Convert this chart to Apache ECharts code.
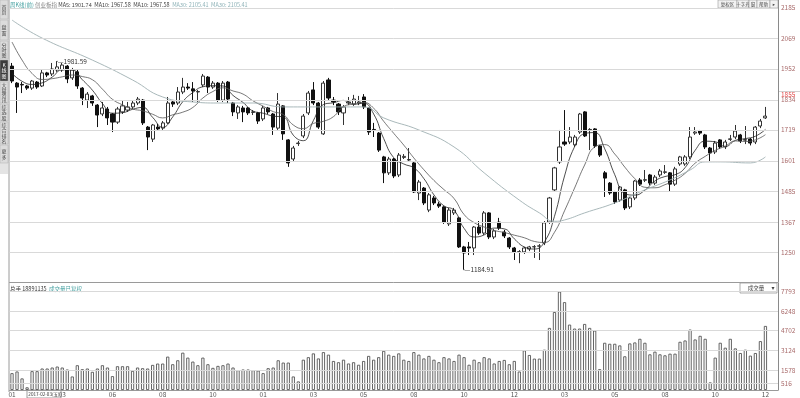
<!DOCTYPE html>
<html>
<head>
<meta charset="utf-8">
<script src="https://cdn.jsdelivr.net/npm/echarts@6.0.0/dist/echarts.min.js"></script>
<style>
html, body { margin: 0; padding: 0; background: #fff; }
#main { width: 800px; height: 398px; }
</style>
</head>
<body>
<div id="main"></div>
<script>
// weekly candles
var opens = [1963,1898,1893,1887,1879,1902,1887,1937,1933,1948,
  1948,1963,1918,1941,1879,1833,1849,1814,1780,1799,
  1780,1749,1788,1795,1807,1822,1833,1730,1684,1730,
  1726,1746,1826,1822,1864,1883,1876,1864,1891,1921,
  1883,1898,1833,1902,1822,1784,1803,1803,1786,1784,
  1761,1803,1780,1726,1811,1681,1608,1667,1696,1784,
  1872,1822,1704,1910,1833,1818,1784,1822,1818,1822,
  1845,1803,1721,1707,1616,1555,1608,1547,1614,1604,
  1593,1478,1497,1413,1459,1436,1425,1360,1402,1383,
  1272,1272,1268,1348,1325,1402,1310,1367,1329,1306,
  1268,1253,1253,1264,1272,1275,1287,1367,1490,1597,
  1673,1673,1662,1711,1788,1719,1723,1658,1555,1516,
  1482,1451,1490,1425,1459,1528,1527,1547,1516,1547,
  1557,1555,1512,1589,1589,1616,1707,1715,1700,1650,
  1635,1681,1654,1683,1692,1700,1680,1684,1673,1734,
  1765];
var closes = [1906,1883,1891,1879,1906,1883,1937,1929,1952,1960,
  1967,1914,1948,1887,1841,1856,1822,1776,1803,1765,
  1749,1799,1811,1807,1822,1837,1746,1692,1738,1723,
  1746,1822,1818,1864,1883,1879,1868,1866,1925,1883,
  1898,1833,1898,1837,1788,1807,1788,1784,1788,1753,
  1803,1788,1730,1818,1704,1593,1650,1669,1772,1860,
  1822,1730,1898,1841,1826,1788,1807,1826,1837,1826,
  1807,1711,1717,1642,1555,1608,1543,1623,1618,1606,
  1482,1520,1440,1471,1440,1428,1367,1413,1413,1272,
  1249,1268,1348,1325,1402,1310,1333,1344,1314,1272,
  1253,1254,1268,1272,1273,1276,1364,1459,1574,1654,
  1665,1692,1692,1780,1696,1721,1658,1623,1535,1478,
  1444,1501,1421,1459,1524,1512,1529,1516,1539,1562,
  1559,1512,1570,1616,1616,1692,1711,1707,1654,1631,
  1669,1654,1673,1685,1715,1677,1682,1669,1730,1753,
  1772];
var lows = [1898,1784,1860,1872,1872,1876,1883,1921,1925,1941,
  1941,1898,1910,1876,1814,1803,1811,1730,1772,1738,
  1711,1742,1780,1788,1799,1814,1738,1642,1673,1715,
  1719,1742,1807,1814,1856,1872,1826,1826,1883,1860,
  1876,1826,1826,1822,1772,1761,1749,1776,1776,1742,
  1753,1780,1700,1719,1681,1578,1600,1658,1688,1776,
  1814,1723,1700,1833,1814,1776,1738,1814,1811,1814,
  1799,1700,1692,1635,1516,1547,1535,1539,1608,1597,
  1478,1451,1432,1405,1432,1421,1360,1352,1394,1268,
  1185,1241,1241,1318,1318,1302,1302,1337,1306,1264,
  1222,1210,1245,1256,1230,1222,1279,1360,1482,1589,
  1658,1665,1654,1704,1692,1642,1650,1616,1463,1471,
  1436,1444,1413,1417,1451,1505,1520,1508,1509,1539,
  1551,1482,1505,1582,1582,1608,1700,1700,1646,1600,
  1627,1646,1646,1677,1684,1669,1665,1660,1665,1726,
  1761];
var highs = [1975,1902,1902,1891,1910,1906,1948,1941,1975,1982,
  1975,1967,1956,1948,1883,1864,1853,1818,1826,1807,
  1784,1807,1833,1826,1833,1845,1837,1734,1742,1742,
  1753,1845,1833,1883,1918,1898,1902,1872,1933,1925,
  1906,1902,1906,1906,1826,1814,1811,1807,1795,1788,
  1811,1807,1784,1860,1814,1684,1658,1677,1780,1868,
  1902,1826,1906,1918,1845,1822,1814,1845,1853,1849,
  1856,1807,1746,1711,1620,1616,1612,1631,1627,1650,
  1597,1528,1501,1478,1467,1444,1428,1421,1421,1387,
  1276,1291,1352,1371,1409,1405,1340,1383,1337,1310,
  1272,1260,1272,1276,1279,1283,1371,1463,1578,1719,
  1795,1730,1700,1784,1791,1726,1726,1662,1562,1520,
  1486,1505,1494,1463,1528,1535,1566,1551,1547,1570,
  1585,1558,1578,1620,1623,1730,1730,1719,1704,1654,
  1677,1684,1681,1700,1738,1704,1734,1688,1734,1761,
  1807];
var volumes = [1335,1468,918,212,1492,1492,1701,1701,1780,1858,
  1780,1623,1073,1963,1649,1701,1440,1701,1963,1780,
  1099,1884,1884,1884,1518,1780,1727,1701,1989,2094,
  2094,2643,2041,2355,2957,2564,2250,1963,2564,2041,
  1753,1910,1963,2094,1780,1570,1623,1623,1570,1544,
  1335,1727,1780,2355,2172,2172,1073,680,2400,2600,
  2900,2500,3000,2800,2300,2200,2400,2100,2200,2000,
  2300,2700,2400,2600,3100,2800,2700,2900,2400,2300,
  3000,2800,2500,2700,2400,2200,2600,2500,2300,2800,
  2600,2000,2400,2200,2600,2500,2100,2300,2381,2041,
  2303,1466,3140,2773,2486,2486,3192,4919,6174,7800,
  6960,5181,4867,4867,5233,4919,4710,1649,3742,3663,
  3663,3533,2669,3690,3768,4055,3742,2826,3036,2826,
  2748,2878,2878,3820,3925,4789,4004,4291,4055,602,
  2564,3742,3350,4055,3297,2930,3192,2721,2930,3873,
  5076];

// moving averages, [week index, value]
var ma5Pts = [[0,1935],[2,1905],[4,1893],[6,1899],[8,1921],[10,1949],[12,1948],[14,1911],[16,1871],[18,1820],
  [20,1783],[22,1785],[24,1798],[26,1805],[28,1767],[30,1729],[32,1769],[34,1827],[36,1862],[38,1884],
  [40,1888],[42,1887],[44,1851],[46,1824],[48,1791],[50,1783],[52,1772],[54,1769],[56,1699],[58,1678],
  [60,1755],[62,1816],[64,1823],[66,1832],[68,1817],[70,1821],[72,1780],[74,1686],[76,1613],[78,1589],
  [80,1574],[82,1533],[84,1471],[86,1429],[88,1412],[90,1343],[92,1310],[94,1318],[96,1344],[98,1341],
  [100,1303],[102,1272],[104,1264],[106,1291],[108,1389],[110,1543],[112,1655],[114,1705],[116,1709],[118,1647],
  [120,1548],[122,1476],[124,1470],[126,1489],[128,1524],[130,1541],[132,1548],[134,1575],[136,1641],[138,1676],
  [140,1674],[142,1656],[144,1679],[146,1686],[148,1695],[150,1721]];
var ma10Pts = [[0,2055],[2,1986],[4,1935],[6,1912],[8,1915],[10,1922],[12,1929],[14,1923],[16,1911],[18,1875],
  [20,1836],[22,1815],[24,1799],[26,1792],[28,1779],[30,1765],[32,1777],[34,1787],[36,1805],[38,1841],
  [40,1866],[42,1880],[44,1868],[46,1856],[48,1830],[50,1810],[52,1789],[54,1778],[56,1738],[58,1724],
  [60,1744],[62,1752],[64,1770],[66,1808],[68,1818],[70,1824],[72,1802],[74,1752],[76,1706],[78,1661],
  [80,1612],[82,1567],[84,1526],[86,1491],[88,1457],[90,1396],[92,1365],[94,1348],[96,1335],[98,1327],
  [100,1317],[102,1307],[104,1293],[106,1289],[108,1328],[110,1410],[112,1497],[114,1585],[116,1654],[118,1663],
  [120,1627],[122,1577],[124,1533],[126,1500],[128,1498],[130,1510],[132,1527],[134,1553],[136,1592],[138,1618],
  [140,1641],[142,1657],[144,1677],[146,1675],[148,1681],[150,1701]];
var ma30Pts = [[0,2139],[6,2070],[16,1986],[24,1910],[30,1845],[36,1826],[41,1822],[48,1822],[54,1807],[61,1807],
  [70,1807],[74,1765],[81,1719],[88,1654],[94,1555],[101,1451],[105,1402],[108,1370],[110,1375],[114,1402],
  [120,1440],[126,1490],[131,1528],[135,1566],[138,1597],[141,1597],[147,1593],[150,1616]];

var priceTicks = [1250, 1367, 1485, 1601, 1719, 1834, 1952, 2069, 2185];
var volTicks = [516, 1578, 3124, 4702, 6248, 7793];
var monthTicks = ['01','03','06','08','10','01','03','05','08','10','12','03','05','08','10','12'];
var lastMark = 1855;

var FONT = '"Noto Sans CJK SC", "DejaVu Sans", sans-serif';
var AXIS_TXT = '#a86a6a';

var chartDom = document.getElementById('main');
var myChart = echarts.init(chartDom, null, { renderer: 'canvas' });

var weeks = closes.map(function (_, i) { return i; });
var candles = opens.map(function (o, i) { return [o, closes[i], lows[i], highs[i]]; });

function tickLines(ticks) {
  return ticks.map(function (v) { return { yAxis: v }; });
}

// left tool strip and small header widgets
var toolButtons = [['首页', 0, 19], ['盘面', 20, 40], ['分时图', 41, 59], ['K线图', 60, 81],
  ['大盘资讯', 82, 103], ['综选股', 104, 121], ['综合排名', 122, 144], ['更多', 145, 163]];
var graphics = [];
graphics.push({ type: 'rect', shape: { x: 0, y: 0, width: 8, height: 174 }, style: { fill: '#e4e4e4' } });
toolButtons.forEach(function (b) {
  var active = b[0] === 'K线图';
  graphics.push({ type: 'rect', shape: { x: 0, y: b[1], width: 8, height: b[2] - b[1] },
    style: { fill: active ? '#3c3c3c' : '#dcdcdc', stroke: '#b0b0b0', lineWidth: 0.5 } });
  graphics.push({ type: 'text', x: 4, y: (b[1] + b[2]) / 2,
    style: { text: b[0].split('').join('\n'), font: '5px ' + FONT, lineHeight: 5.2,
      fill: active ? '#fff' : '#444', align: 'center', verticalAlign: 'middle' } });
});
graphics.push({ type: 'line', shape: { x1: 9, y1: 0, x2: 9, y2: 392 }, style: { stroke: '#9a9a9a', lineWidth: 1 } });

// header line: one rich text so the pieces never collide
graphics.push({ type: 'text', x: 10, y: 4.5,
  style: {
    text: '{t|周K线(前)} {g|创业板指} {d|MA5: 1901.74}  {d|MA10: 1967.58}  {d|MA10: 1967.58}  {m|MA30: 2105.41}  {m|MA30: 2105.41}',
    font: '5.5px ' + FONT, verticalAlign: 'middle',
    rich: {
      t: { fill: '#4aa3a3', font: '5.5px ' + FONT },
      g: { fill: '#888', font: '5.5px ' + FONT },
      d: { fill: '#444', font: '5.5px ' + FONT },
      m: { fill: '#8fb3b8', font: '5.5px ' + FONT }
    }
  } });

var topButtons = [['复权区', 718, 737], ['十字光', 737, 749], ['窗', 749, 757], ['帮助', 757, 770], ['▸', 770, 778]];
topButtons.forEach(function (b) {
  graphics.push({ type: 'rect', shape: { x: b[1], y: 0, width: b[2] - b[1], height: 8 },
    style: { fill: '#f2f2f2', stroke: '#9a9a9a', lineWidth: 0.6 } });
  graphics.push({ type: 'text', x: (b[1] + b[2]) / 2, y: 4,
    style: { text: b[0], font: '4.5px ' + FONT, fill: '#444', align: 'center', verticalAlign: 'middle' } });
});

graphics.push({ type: 'text', x: 10, y: 288.5,
  style: {
    text: '{d|总手 18891135}  {t|成交量已复权}',
    font: '5.5px ' + FONT, verticalAlign: 'middle',
    rich: {
      d: { fill: '#333', font: '5.5px ' + FONT },
      t: { fill: '#4aa3a3', font: '5.5px ' + FONT }
    }
  } });

graphics.push({ type: 'rect', shape: { x: 740, y: 283, width: 37, height: 10 },
  style: { fill: '#fff', stroke: '#8a8a8a', lineWidth: 0.7 } });
graphics.push({ type: 'text', x: 756, y: 288,
  style: { text: '成交量', font: '5.5px ' + FONT, fill: '#444', align: 'center', verticalAlign: 'middle' } });
graphics.push({ type: 'text', x: 773, y: 288,
  style: { text: '▾', font: '6px ' + FONT, fill: '#444', align: 'center', verticalAlign: 'middle' } });

graphics.push({ type: 'rect', shape: { x: 27, y: 390, width: 34, height: 8 },
  style: { fill: '#fff', stroke: '#777', lineWidth: 0.7 } });
graphics.push({ type: 'text', x: 44, y: 394.3,
  style: { text: '2017-02-03(五)', font: '4.6px ' + FONT, fill: '#333', align: 'center', verticalAlign: 'middle' } });

graphics.push({ type: 'line', shape: { x1: 778, y1: 91.5, x2: 800, y2: 91.5 }, style: { stroke: '#bbb', lineWidth: 0.7 } });

var option = {
  animation: false,
  backgroundColor: '#fff',
  textStyle: { fontFamily: FONT },
  grid: [
    { left: 9.5, top: 0, width: 768.5, height: 282 },
    { left: 9.5, top: 283, width: 768.5, height: 108 }
  ],
  xAxis: [
    {
      type: 'category', gridIndex: 0, data: weeks, max: 152,
      axisLine: { show: true, lineStyle: { color: '#9a9a9a', width: 1 } },
      axisTick: { show: false }, axisLabel: { show: false }, splitLine: { show: false }
    },
    {
      type: 'category', gridIndex: 1, data: weeks, max: 152,
      axisLine: { show: true, lineStyle: { color: '#9a9a9a', width: 1 } },
      axisTick: { show: false }, splitLine: { show: false },
      axisLabel: {
        interval: 9, fontSize: 6.5, color: '#555', margin: 1.5, fontFamily: FONT,
        formatter: function (v, i) { return monthTicks[i / 10] || ''; }
      }
    }
  ],
  yAxis: [
    {
      type: 'value', gridIndex: 0, position: 'right', min: 1138, max: 2215.6,
      axisLine: { show: true, lineStyle: { color: '#8a8a8a' } },
      axisTick: { show: false }, axisLabel: { show: false }, splitLine: { show: false }
    },
    {
      type: 'value', gridIndex: 1, position: 'right', min: 0, max: 8478,
      axisLine: { show: true, lineStyle: { color: '#8a8a8a' } },
      axisTick: { show: false }, axisLabel: { show: false }, splitLine: { show: false }
    }
  ],
  series: [
    {
      name: 'K', type: 'candlestick', xAxisIndex: 0, yAxisIndex: 0,
      data: candles, barWidth: 3.6,
      itemStyle: { color: '#fff', color0: '#111', borderColor: '#333', borderColor0: '#111', borderWidth: 1 },
      markLine: {
        silent: true, symbol: ['none', 'none'], animation: false,
        lineStyle: { color: '#d9d9d9', type: 'solid', width: 1 },
        label: { position: 'end', distance: 3, fontSize: 6.5, color: AXIS_TXT, fontFamily: FONT,
          formatter: function (p) { return p.value; } },
        data: tickLines(priceTicks).concat([{
          yAxis: lastMark,
          lineStyle: { color: 'rgba(0,0,0,0)' },
          label: { color: '#e04848' }
        }])
      },
      markPoint: {
        symbol: 'circle', symbolSize: 1, silent: true, animation: false,
        itemStyle: { color: '#333' },
        label: { show: true, position: 'right', distance: 0, fontSize: 6.5, color: '#333', fontFamily: FONT,
          formatter: function (p) { return '—' + p.value; } },
        data: [
          { coord: [9, 1981.59], value: '1981.59' },
          { coord: [90, 1184.91], value: '1184.91' }
        ]
      }
    },
    {
      name: 'MA5', type: 'line', xAxisIndex: 0, yAxisIndex: 0, data: ma5Pts,
      smooth: true, showSymbol: false, lineStyle: { color: '#222', width: 0.8 }, z: 3
    },
    {
      name: 'MA10', type: 'line', xAxisIndex: 0, yAxisIndex: 0, data: ma10Pts,
      smooth: true, showSymbol: false, lineStyle: { color: '#555', width: 0.8 }, z: 3
    },
    {
      name: 'MA30', type: 'line', xAxisIndex: 0, yAxisIndex: 0, data: ma30Pts,
      smooth: true, showSymbol: false, lineStyle: { color: '#9fb0b2', width: 0.9 }, z: 3
    },
    {
      name: 'VOL', type: 'bar', xAxisIndex: 1, yAxisIndex: 1, data: volumes, barWidth: 3.2,
      itemStyle: { color: '#fff', borderColor: '#555', borderWidth: 0.9 },
      markLine: {
        silent: true, symbol: ['none', 'none'], animation: false,
        lineStyle: { color: '#d9d9d9', type: 'solid', width: 1 },
        label: { position: 'end', distance: 3, fontSize: 6.5, color: AXIS_TXT, fontFamily: FONT,
          formatter: function (p) { return p.value; } },
        data: tickLines(volTicks)
      }
    }
  ],
  graphic: graphics
};

option && myChart.setOption(option);
</script>
</body>
</html>
